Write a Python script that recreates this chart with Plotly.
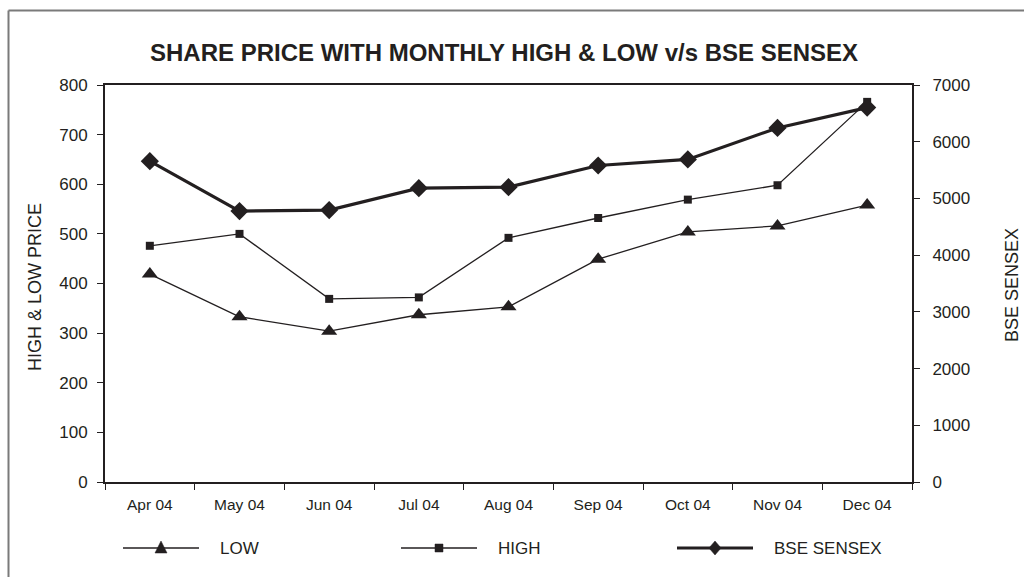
import plotly.graph_objects as go

months = ["Apr 04", "May 04", "Jun 04", "Jul 04", "Aug 04", "Sep 04", "Oct 04", "Nov 04", "Dec 04"]
low = [419, 333, 304, 337, 353, 449, 504, 516, 558]
high = [476, 500, 369, 372, 492, 532, 569, 598, 766]
sensex = [5657, 4777, 4795, 5181, 5199, 5581, 5687, 6243, 6602]
series_names = ["LOW", "HIGH", "BSE SENSEX"]
left_ticks = [0, 100, 200, 300, 400, 500, 600, 700, 800]
right_ticks = [0, 1000, 2000, 3000, 4000, 5000, 6000, 7000]

INK = "#231f20"
FONT = "Liberation Sans, Arial, sans-serif"
W, H = 1024, 577
# plot area in screenshot pixels: x 105..912, y 85..482
L, T = 105, 85
R, B = W - 912, H - 482
PW, PH = W - L - R, H - T - B


def px_to_paper_x(px):
    return (px - L) / PW


def px_to_paper_y(py):
    return 1 - (py - T) / PH


fig = go.Figure()
fig.add_trace(go.Scatter(x=months, y=low, name=series_names[0], mode="lines+markers",
                         line=dict(color=INK, width=1.3),
                         marker=dict(symbol="triangle-up", size=14, color=INK),
                         showlegend=False))
fig.add_trace(go.Scatter(x=months, y=high, name=series_names[1], mode="lines+markers",
                         line=dict(color=INK, width=1.3),
                         marker=dict(symbol="square", size=8, color=INK),
                         showlegend=False))
fig.add_trace(go.Scatter(x=months, y=sensex, name=series_names[2], mode="lines+markers",
                         yaxis="y2",
                         line=dict(color=INK, width=3.2),
                         marker=dict(symbol="diamond", size=14, color=INK),
                         showlegend=False))

boundaries = [i - 0.5 for i in range(len(months) + 1)]
yfont = dict(family=FONT, size=17, color=INK)

fig.update_layout(
    width=W, height=H,
    margin=dict(l=L, r=R, t=T, b=B, pad=0),
    paper_bgcolor="white", plot_bgcolor="white",
    font=dict(family=FONT, color=INK),
    xaxis=dict(type="category", categoryorder="array", categoryarray=months,
               range=[-0.5, len(months) - 0.5],
               tickson="boundaries", ticks="outside", ticklen=6, tickwidth=1.3, tickcolor=INK,
               showline=True, linecolor=INK, linewidth=2, mirror=True,
               showgrid=False, zeroline=False, ticklabelstandoff=7,
               tickfont=dict(family=FONT, size=15.5, color=INK)),
    xaxis3=dict(overlaying="x", anchor="y", range=[-0.5, len(months) - 0.5],
                tickmode="array", tickvals=boundaries, ticks="inside", ticklen=6,
                tickwidth=1.3, tickcolor=INK, showticklabels=False,
                showgrid=False, zeroline=False, showline=False),
    yaxis=dict(range=[0, 800], tickmode="array", tickvals=left_ticks,
               ticks="outside", ticklen=6, tickwidth=1.3, tickcolor=INK,
               showline=True, linecolor=INK, linewidth=2, ticklabelstandoff=6,
               showgrid=False, zeroline=False, tickfont=yfont),
    yaxis3=dict(overlaying="y", anchor="x", side="left", range=[0, 800],
                tickmode="array", tickvals=left_ticks, ticks="inside", ticklen=6,
                tickwidth=1.3, tickcolor=INK, showticklabels=False,
                showgrid=False, zeroline=False, showline=False),
    yaxis2=dict(overlaying="y", side="right", anchor="x", range=[0, 7000],
                tickmode="array", tickvals=right_ticks,
                ticks="outside", ticklen=6, tickwidth=1.3, tickcolor=INK,
                showline=True, linecolor=INK, linewidth=2, ticklabelstandoff=9,
                showgrid=False, zeroline=False, tickfont=yfont),
    yaxis4=dict(overlaying="y", side="right", anchor="x", range=[0, 7000],
                tickmode="array", tickvals=right_ticks, ticks="inside", ticklen=6,
                tickwidth=1.3, tickcolor=INK, showticklabels=False,
                showgrid=False, zeroline=False, showline=False),
    showlegend=False,
)

annotations = [
    dict(text="<b>SHARE PRICE WITH MONTHLY HIGH &amp; LOW v/s BSE SENSEX</b>",
         xref="paper", yref="paper", x=px_to_paper_x(504), y=px_to_paper_y(53),
         xanchor="center", yanchor="middle", showarrow=False,
         font=dict(family=FONT, size=24, color=INK)),
    dict(text="HIGH &amp; LOW PRICE", xref="paper", yref="paper",
         x=px_to_paper_x(35), y=px_to_paper_y(287), textangle=-90,
         xanchor="center", yanchor="middle", showarrow=False,
         font=dict(family=FONT, size=18, color=INK)),
    dict(text="BSE SENSEX", xref="paper", yref="paper",
         x=px_to_paper_x(1012), y=px_to_paper_y(285), textangle=-90,
         xanchor="center", yanchor="middle", showarrow=False,
         font=dict(family=FONT, size=18, color=INK)),
]

shapes = [
    # outer frame (top and left edges visible)
    dict(type="line", xref="paper", yref="paper",
         x0=px_to_paper_x(8.5), x1=px_to_paper_x(1030), y0=px_to_paper_y(10.5), y1=px_to_paper_y(10.5),
         line=dict(color="#7a7a7a", width=2)),
    dict(type="line", xref="paper", yref="paper",
         x0=px_to_paper_x(8.5), x1=px_to_paper_x(8.5), y0=px_to_paper_y(10.5), y1=px_to_paper_y(590),
         line=dict(color="#7a7a7a", width=2)),
]

# custom legend
legend_starts = [123, 401, 677]
legend_widths = [1.3, 1.3, 3.2]
legend_y = 548
marker_paths = [
    "M -6,-5 L 6,-5 L 0,7 Z",      # triangle
    "M -4,-4 L 4,-4 L 4,4 L -4,4 Z",  # square
    "M 0,-7 L 6,0 L 0,7 L -6,0 Z",   # diamond
]
for name, xs, lw, path in zip(series_names, legend_starts, legend_widths, marker_paths):
    shapes.append(dict(type="line", xref="paper", yref="paper",
                       x0=px_to_paper_x(xs), x1=px_to_paper_x(xs + 76),
                       y0=px_to_paper_y(legend_y), y1=px_to_paper_y(legend_y),
                       line=dict(color=INK, width=lw)))
    shapes.append(dict(type="path", xref="paper", yref="paper",
                       xsizemode="pixel", ysizemode="pixel",
                       xanchor=px_to_paper_x(xs + 38), yanchor=px_to_paper_y(legend_y),
                       path=path, fillcolor=INK, line=dict(color=INK, width=0.5)))
    annotations.append(dict(text=name, xref="paper", yref="paper",
                            x=px_to_paper_x(xs + 95), y=px_to_paper_y(legend_y),
                            xanchor="left", yanchor="middle", showarrow=False,
                            font=dict(family=FONT, size=17, color=INK)))

fig.update_layout(annotations=annotations, shapes=shapes)
fig.write_html("out.html",
               config={"displayModeBar": False},
               post_script="document.body.style.margin='0';document.body.style.overflow='hidden';")
